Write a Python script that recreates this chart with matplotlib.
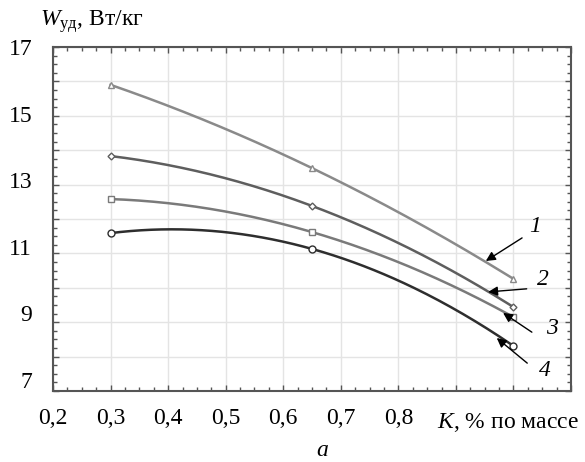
import numpy as np
import matplotlib
matplotlib.use('Agg')
import matplotlib.pyplot as plt
from matplotlib.ticker import MultipleLocator
from matplotlib.transforms import ScaledTranslation, blended_transform_factory

plt.rcParams['font.family'] = ['Liberation Serif', 'DejaVu Serif']
plt.rcParams['mathtext.fontset'] = 'custom'
plt.rcParams['mathtext.rm'] = 'Liberation Serif'
plt.rcParams['mathtext.it'] = 'Liberation Serif:italic'

# K, % по массе
k_vals = [0.3, 0.65, 1.0]
# удельная мощность, Вт/кг
w1 = [15.90, 13.48, 10.26]
w2 = [13.83, 12.38, 9.44]
w3 = [12.58, 11.62, 9.15]
w4 = [11.59, 11.13, 8.31]

series = [
    ('1', w1, '^', '#8a8a8a'),
    ('2', w2, 'D', '#5e5e5e'),
    ('3', w3, 's', '#7a7a7a'),
    ('4', w4, 'o', '#2e2e2e'),
]
# (label pos, arrow tail, arrow head)
callouts = {
    '1': ((1.037, 11.77), (1.015, 11.45), (0.952, 10.78)),
    '2': ((1.051, 10.23), (1.023, 9.97), (0.956, 9.88)),
    '3': ((1.067, 8.83), (1.032, 8.71), (0.982, 9.27)),
    '4': ((1.055, 7.61), (1.024, 7.81), (0.971, 8.54)),
}

FS = 17

fig = plt.figure(figsize=(5.85, 4.62), dpi=100)
ax = fig.add_axes([53 / 585, 1 - 391 / 462, 518 / 585, 344 / 462])

xs = np.linspace(k_vals[0], k_vals[-1], 200)
for name, w, mk, col in series:
    coef = np.polyfit(k_vals, w, 2)
    ax.plot(xs, np.polyval(coef, xs), color=col, lw=1.8, zorder=3)
    ax.plot(k_vals, w, ls='none', marker=mk, ms=5 if mk != 'D' else 3.5,
            mfc='white', mec=col, mew=1.0, zorder=4)
    (tx, ty), (ax0, ay0), (hx, hy) = callouts[name]
    ax.annotate('', xy=(hx, hy), xytext=(ax0, ay0),
                arrowprops=dict(arrowstyle='-|>', color='black', lw=1.0,
                                mutation_scale=14, shrinkA=0, shrinkB=0),
                zorder=5, annotation_clip=False)
    ax.text(tx, ty, name, fontsize=FS, style='italic', ha='center', va='center')

ax.set_xlim(0.2, 1.1)
ax.set_ylim(7, 17)
ax.xaxis.set_major_locator(MultipleLocator(0.1))
ax.xaxis.set_minor_locator(MultipleLocator(0.025))
ax.yaxis.set_major_locator(MultipleLocator(1))
ax.yaxis.set_minor_locator(MultipleLocator(0.25))
ax.grid(True, which='major', color='#e4e4e4', lw=1.0)
ax.set_axisbelow(True)

ax.tick_params(which='both', direction='in', top=True, right=True,
               color='#555555', width=1.0)
ax.tick_params(which='major', length=4)
ax.tick_params(which='minor', length=3)
for sp in ax.spines.values():
    sp.set_color('#555555')
    sp.set_linewidth(1.5)

xt = [0.2, 0.3, 0.4, 0.5, 0.6, 0.7, 0.8]
ax.set_xticks(xt + [0.9, 1.0, 1.1])
ax.set_xticklabels([f'{v:.1f}'.replace('.', ',') for v in xt] + ['', '', ''],
                   fontsize=FS)
ax.tick_params(axis='x', pad=12)

yt = [7, 9, 11, 13, 15, 17]
ax.set_yticks(list(range(7, 18)))
ax.set_yticklabels([str(v) if v in yt else '' for v in range(7, 18)], fontsize=FS)
ax.tick_params(axis='y', pad=15)
for v, lab in zip(range(7, 18), ax.get_yticklabels()):
    shift = (17 - v) * 1.1 / 100
    lab.set_transform(lab.get_transform() + ScaledTranslation(0, shift, fig.dpi_scale_trans))

trans = blended_transform_factory(ax.transData, ax.transAxes)
ax.text(0.99, -31 / 344, '$K$, % по массе', transform=trans, fontsize=FS,
        ha='center', va='center')

fig.text(40 / 585, 1 - 22 / 462, r'$W_{\mathrm{уд}}$, Вт/кг', fontsize=FS,
         ha='left', va='center')
fig.text(322 / 585, 1 - 451 / 462, 'a', fontsize=FS, style='italic',
         ha='center', va='center')

fig.savefig('out.png', dpi=100)
